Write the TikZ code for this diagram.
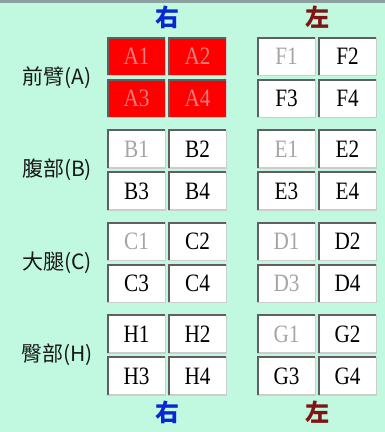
\documentclass[tikz,border=0pt]{standalone}
\usepackage{fontspec}
\newfontfamily\cjkfont{Noto Sans CJK TC}
\newfontfamily\cellfont[FakeStretch=0.85]{Liberation Serif}
\definecolor{mint}{RGB}{192,248,224}
\definecolor{rightblue}{RGB}{10,40,210}
\definecolor{leftred}{RGB}{128,20,20}
\definecolor{dimtext}{RGB}{165,165,165}
\definecolor{hottext}{RGB}{225,125,125}
\definecolor{rimdark}{RGB}{95,95,95}
\definecolor{rimlight}{RGB}{205,205,205}
\definecolor{topline}{RGB}{140,160,160}

\begin{document}
\begin{tikzpicture}[x=1pt, y=-1pt,
  cell/.style={draw=rimlight, line width=1.5pt, fill=white,
    minimum width=57.5pt, minimum height=37.5pt, inner sep=0pt, outer sep=0pt,
    font=\cellfont\fontsize{25}{25}\selectfont},
  rim/.style={draw=rimdark, line width=2pt},
  dim/.style={text=dimtext},
  hot/.style={fill=red, text=hottext},
  part/.style={font=\cjkfont\fontsize{21}{21}\selectfont, text=black!90},
  side/.style={font=\cjkfont\bfseries\fontsize{24}{24}\selectfont},
  % cells that are lit or greyed out
  cellA1/.style=hot, cellA2/.style=hot, cellA3/.style=hot, cellA4/.style=hot,
  cellF1/.style=dim, cellB1/.style=dim, cellE1/.style=dim, cellC1/.style=dim,
  cellD1/.style=dim, cellD3/.style=dim, cellG1/.style=dim]

  \path[fill=mint, use as bounding box] (0,0) rectangle (385,432);
  \fill[topline] (0,0) rectangle (385,3);

  \node[side, text=rightblue] (rtop) at (167,17) {右};
  \node[side, text=leftred] (ltop) at (317,17) {左};
  \node[side, text=rightblue] (rbot) at (167,412) {右};
  \node[side, text=leftred] (lbot) at (317,412) {左};

  \foreach \y/\rt/\lt/\part/\tag in {37/A/F/前臂/A, 129.5/B/E/腹部/B,
      222/C/D/大腿/C, 314.5/H/G/臀部/H} {
    \node[part] (part\tag) at (57,\y+40.5) {\part(\tag)};
    \foreach \n/\dx/\dy in {1/0/19.5, 2/61/19.5, 3/0/61.5, 4/61/61.5} {
      \node[cell, cell\rt\n/.try] (\rt\n) at (136.5+\dx,\y+\dy) {\rt\n};
      \node[cell, cell\lt\n/.try] (\lt\n) at (286.5+\dx,\y+\dy) {\lt\n};
      \draw[rim] (\rt\n.south west) |- (\rt\n.north east);
      \draw[rim] (\lt\n.south west) |- (\lt\n.north east);
    }
  }
\end{tikzpicture}
\end{document}
